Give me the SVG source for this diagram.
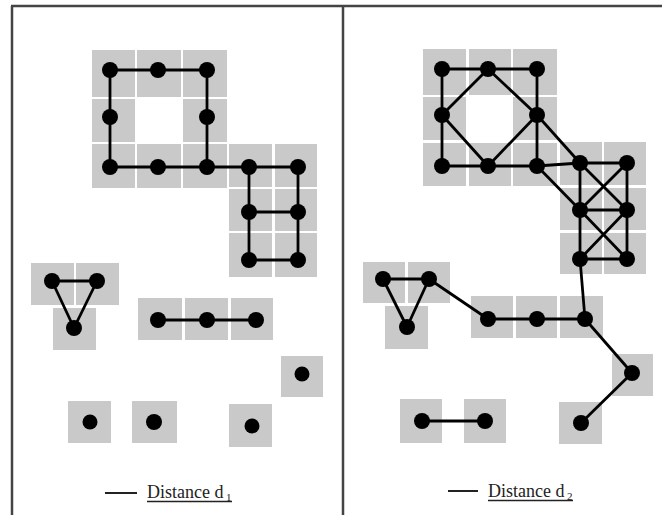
<svg xmlns="http://www.w3.org/2000/svg" width="662" height="515" viewBox="0 0 662 515">
<style>
.c{fill:#c9c9c9}
.n{fill:#000}
.e line{stroke:#000;stroke-width:2.8}
.f{stroke:#444;stroke-width:2.5;fill:none}
.t{font-family:"Liberation Serif","Times New Roman",serif;font-size:18px;fill:#222}
.s{font-family:"Liberation Serif","Times New Roman",serif;font-size:11px;fill:#222}
.u{stroke:#222;stroke-width:1.3}
</style>
<rect width="662" height="515" fill="#fff"/>
<g id="frame">
<line class="f" x1="11" y1="6" x2="662" y2="6"/>
<line class="f" x1="12" y1="6" x2="12" y2="515"/>
<line class="f" x1="343" y1="6" x2="343" y2="515"/>
</g>
<g id="cells-left">
<rect class="c" x="92" y="50" width="43" height="47"/>
<rect class="c" x="137" y="50" width="44" height="47"/>
<rect class="c" x="183" y="50" width="44" height="47"/>
<rect class="c" x="92" y="99" width="43" height="43"/>
<rect class="c" x="183" y="99" width="44" height="43"/>
<rect class="c" x="92" y="144" width="43" height="44"/>
<rect class="c" x="137" y="144" width="44" height="44"/>
<rect class="c" x="183" y="144" width="44" height="44"/>
<rect class="c" x="229" y="144" width="43" height="43"/>
<rect class="c" x="275" y="144" width="42" height="43"/>
<rect class="c" x="229" y="189" width="43" height="42"/>
<rect class="c" x="275" y="189" width="42" height="42"/>
<rect class="c" x="229" y="233" width="43" height="44"/>
<rect class="c" x="275" y="233" width="42" height="44"/>
<rect class="c" x="31" y="263" width="43" height="42"/>
<rect class="c" x="76" y="263" width="43" height="42"/>
<rect class="c" x="53" y="308" width="43" height="42"/>
<rect class="c" x="138" y="298" width="44" height="42"/>
<rect class="c" x="185" y="298" width="43" height="42"/>
<rect class="c" x="231" y="298" width="42" height="42"/>
<rect class="c" x="281" y="356" width="42" height="41"/>
<rect class="c" x="68" y="401" width="43" height="42"/>
<rect class="c" x="132" y="401" width="45" height="42"/>
<rect class="c" x="229" y="404" width="43" height="43"/>
</g>
<g id="cells-right">
<rect class="c" x="423" y="49" width="43" height="46"/>
<rect class="c" x="469" y="49" width="42" height="46"/>
<rect class="c" x="513" y="49" width="44" height="46"/>
<rect class="c" x="423" y="97" width="43" height="43"/>
<rect class="c" x="513" y="97" width="44" height="43"/>
<rect class="c" x="423" y="143" width="43" height="43"/>
<rect class="c" x="469" y="143" width="42" height="43"/>
<rect class="c" x="513" y="143" width="44" height="43"/>
<rect class="c" x="560" y="142" width="42" height="43"/>
<rect class="c" x="604" y="142" width="42" height="43"/>
<rect class="c" x="560" y="188" width="42" height="42"/>
<rect class="c" x="604" y="188" width="42" height="42"/>
<rect class="c" x="560" y="233" width="42" height="41"/>
<rect class="c" x="604" y="233" width="42" height="41"/>
<rect class="c" x="363" y="262" width="42" height="41"/>
<rect class="c" x="408" y="262" width="42" height="41"/>
<rect class="c" x="385" y="306" width="43" height="43"/>
<rect class="c" x="471" y="296" width="42" height="42"/>
<rect class="c" x="516" y="296" width="41" height="42"/>
<rect class="c" x="560" y="296" width="43" height="42"/>
<rect class="c" x="612" y="354" width="41" height="42"/>
<rect class="c" x="559" y="402" width="43" height="42"/>
<rect class="c" x="400" y="399" width="42" height="44"/>
<rect class="c" x="464" y="399" width="42" height="44"/>
</g>
<g id="connectors" class="e">
<line x1="110" y1="70" x2="207" y2="70"/>
<line x1="110" y1="70" x2="110" y2="167"/>
<line x1="207" y1="70" x2="207" y2="167"/>
<line x1="110" y1="167" x2="298" y2="167"/>
<line x1="249" y1="167" x2="249" y2="260"/>
<line x1="298" y1="167" x2="298" y2="260"/>
<line x1="249" y1="212" x2="298" y2="212"/>
<line x1="249" y1="260" x2="298" y2="260"/>
<line x1="52" y1="281" x2="97" y2="281"/>
<line x1="52" y1="281" x2="74" y2="328"/>
<line x1="97" y1="281" x2="74" y2="328"/>
<line x1="158" y1="320" x2="256" y2="320"/>
<line x1="442" y1="69" x2="537" y2="69"/>
<line x1="442" y1="69" x2="442" y2="166"/>
<line x1="537" y1="69" x2="537" y2="166"/>
<line x1="442" y1="166" x2="537" y2="166"/>
<line x1="537" y1="166" x2="580" y2="163"/>
<line x1="580" y1="163" x2="627" y2="163"/>
<line x1="488" y1="69" x2="442" y2="115"/>
<line x1="442" y1="115" x2="488" y2="166"/>
<line x1="488" y1="166" x2="537" y2="115"/>
<line x1="488" y1="69" x2="537" y2="115"/>
<line x1="537" y1="115" x2="580" y2="163"/>
<line x1="537" y1="166" x2="580" y2="210"/>
<line x1="580" y1="163" x2="580" y2="259"/>
<line x1="627" y1="163" x2="627" y2="259"/>
<line x1="580" y1="210" x2="627" y2="210"/>
<line x1="580" y1="259" x2="627" y2="259"/>
<line x1="580" y1="163" x2="627" y2="210"/>
<line x1="627" y1="163" x2="580" y2="210"/>
<line x1="580" y1="210" x2="627" y2="259"/>
<line x1="627" y1="210" x2="580" y2="259"/>
<line x1="580" y1="259" x2="585" y2="319"/>
<line x1="383" y1="279" x2="429" y2="279"/>
<line x1="383" y1="279" x2="407" y2="327"/>
<line x1="429" y1="279" x2="407" y2="327"/>
<line x1="429" y1="279" x2="488" y2="319"/>
<line x1="488" y1="319" x2="585" y2="319"/>
<line x1="585" y1="319" x2="632" y2="373"/>
<line x1="632" y1="373" x2="581" y2="423"/>
<line x1="422" y1="421" x2="485" y2="421"/>
</g>
<g id="L1"><circle class="n" cx="110" cy="70" r="8"/></g>
<g id="L2"><circle class="n" cx="158" cy="70" r="8"/></g>
<g id="L3"><circle class="n" cx="207" cy="70" r="8"/></g>
<g id="L4"><circle class="n" cx="110" cy="117" r="8"/></g>
<g id="L5"><circle class="n" cx="207" cy="117" r="8"/></g>
<g id="L6"><circle class="n" cx="110" cy="167" r="8"/></g>
<g id="L7"><circle class="n" cx="158" cy="167" r="8"/></g>
<g id="L8"><circle class="n" cx="207" cy="167" r="8"/></g>
<g id="L9"><circle class="n" cx="249" cy="167" r="8"/></g>
<g id="L10"><circle class="n" cx="298" cy="167" r="8"/></g>
<g id="L11"><circle class="n" cx="249" cy="212" r="8"/></g>
<g id="L12"><circle class="n" cx="298" cy="212" r="8"/></g>
<g id="L13"><circle class="n" cx="249" cy="260" r="8"/></g>
<g id="L14"><circle class="n" cx="298" cy="260" r="8"/></g>
<g id="L15"><circle class="n" cx="52" cy="281" r="8"/></g>
<g id="L16"><circle class="n" cx="97" cy="281" r="8"/></g>
<g id="L17"><circle class="n" cx="74" cy="328" r="8"/></g>
<g id="L18"><circle class="n" cx="158" cy="320" r="8"/></g>
<g id="L19"><circle class="n" cx="207" cy="320" r="8"/></g>
<g id="L20"><circle class="n" cx="256" cy="320" r="8"/></g>
<g id="L21"><circle class="n" cx="302" cy="374" r="7.5"/></g>
<g id="L22"><circle class="n" cx="90" cy="422" r="7.5"/></g>
<g id="L23"><circle class="n" cx="154" cy="422" r="8"/></g>
<g id="L24"><circle class="n" cx="252" cy="426" r="7.5"/></g>
<g id="R1"><circle class="n" cx="442" cy="69" r="8"/></g>
<g id="R2"><circle class="n" cx="488" cy="69" r="8"/></g>
<g id="R3"><circle class="n" cx="537" cy="69" r="8"/></g>
<g id="R4"><circle class="n" cx="442" cy="115" r="8"/></g>
<g id="R5"><circle class="n" cx="537" cy="115" r="8"/></g>
<g id="R6"><circle class="n" cx="442" cy="166" r="8"/></g>
<g id="R7"><circle class="n" cx="488" cy="166" r="8"/></g>
<g id="R8"><circle class="n" cx="537" cy="166" r="8"/></g>
<g id="R9"><circle class="n" cx="580" cy="163" r="8"/></g>
<g id="R10"><circle class="n" cx="627" cy="163" r="8"/></g>
<g id="R11"><circle class="n" cx="580" cy="210" r="8"/></g>
<g id="R12"><circle class="n" cx="627" cy="210" r="8"/></g>
<g id="R13"><circle class="n" cx="580" cy="259" r="8"/></g>
<g id="R14"><circle class="n" cx="627" cy="259" r="8"/></g>
<g id="R15"><circle class="n" cx="383" cy="279" r="8"/></g>
<g id="R16"><circle class="n" cx="429" cy="279" r="8"/></g>
<g id="R17"><circle class="n" cx="407" cy="327" r="8"/></g>
<g id="R18"><circle class="n" cx="488" cy="319" r="8"/></g>
<g id="R19"><circle class="n" cx="537" cy="319" r="8"/></g>
<g id="R20"><circle class="n" cx="585" cy="319" r="8"/></g>
<g id="R21"><circle class="n" cx="632" cy="373" r="8"/></g>
<g id="R22"><circle class="n" cx="581" cy="423" r="8"/></g>
<g id="R23"><circle class="n" cx="422" cy="421" r="8"/></g>
<g id="R24"><circle class="n" cx="485" cy="421" r="8"/></g>
<g id="legend-left">
<line x1="105" y1="493" x2="137" y2="493" stroke="#222" stroke-width="2"/>
<text class="t" x="147" y="498">Distance d</text>
<text class="s" x="226" y="501">1</text>
<line class="u" x1="147" y1="501.5" x2="232" y2="501.5"/>
</g>
<g id="legend-right">
<line x1="448" y1="491" x2="478" y2="491" stroke="#222" stroke-width="2"/>
<text class="t" x="488" y="497">Distance d</text>
<text class="s" x="567" y="500">2</text>
<line class="u" x1="488" y1="500.5" x2="573" y2="500.5"/>
</g>
</svg>
